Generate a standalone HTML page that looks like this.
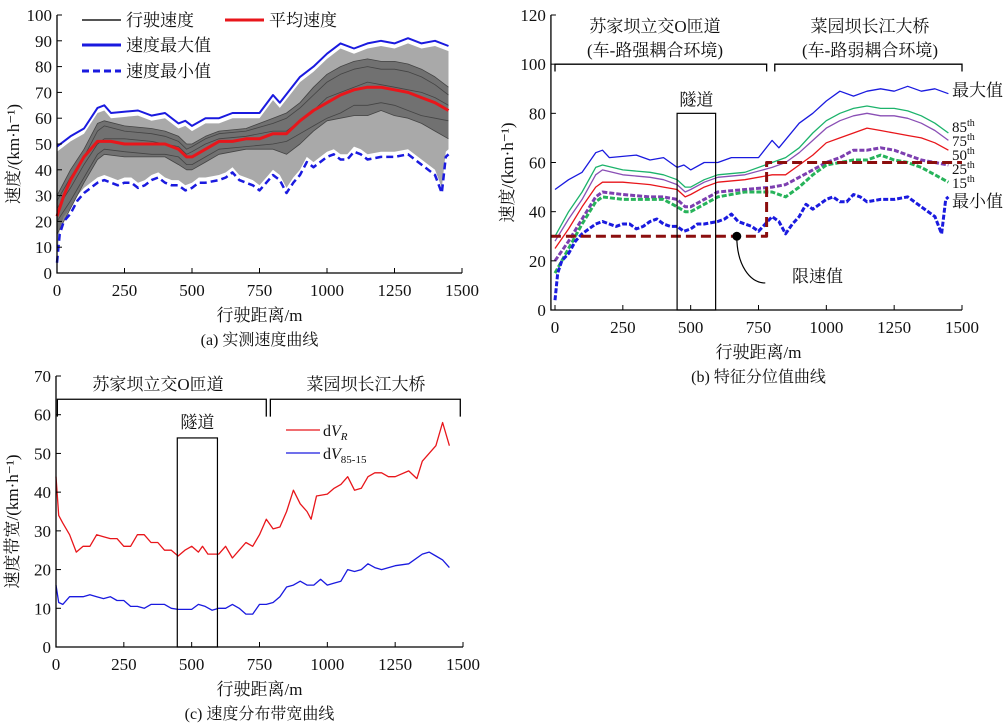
<!DOCTYPE html>
<html><head><meta charset="utf-8">
<style>
body{margin:0;background:#fff;width:1007px;height:728px;overflow:hidden}
svg{position:absolute;left:0;top:0}
text{font-family:"Liberation Serif","Noto Serif CJK SC",serif;fill:#111}
</style></head>
<body>
<svg id="fig" width="1007" height="728" viewBox="0 0 1007 728"></svg>
<script>
// ---- data (x = distance m, y = speed km/h) ----
const maxX=[0,50,100,150,175,200,300,350,400,450,475,500,550,600,650,700,750,800,825,900,950,1000,1050,1100,1150,1200,1250,1300,1350,1400,1450];
const maxY=[49,53,56,64,65,62,63,61,62,58,59,57,60,60,62,62,62,69,66,76,80,85,89,87,89,90,89,91,89,90,88];
const meanX=[0,25,50,100,150,200,250,300,350,400,450,480,500,550,600,650,700,750,800,850,900,950,1000,1050,1100,1150,1200,1250,1300,1350,1400,1450];
const meanY=[22,30,36,45,51,51,50,50,50,50,48,45,45,48,51,51,52,52,54,54,59,63,66,69,71,72,72,71,70,68,66,63];
const minX=[0,10,25,50,75,100,150,175,200,225,250,275,300,325,350,375,400,425,450,475,500,525,550,600,625,650,675,700,725,750,775,800,825,850,875,900,925,950,1000,1025,1050,1075,1100,1125,1150,1200,1250,1300,1350,1400,1425,1440,1450];
const minY=[4,15,20,23,28,31,35,36,35,34,35,35,33,34,36,37,35,34,34,32,33,35,35,36,37,39,36,35,34,32,35,38,36,31,35,38,43,41,45,46,44,44,47,46,44,45,45,46,42,38,31,45,46];
const pX=[0,50,100,150,175,250,350,400,450,480,500,550,600,700,800,850,900,950,1000,1050,1100,1150,1200,1250,1300,1350,1400,1450];
const p85=[30,40,48,58,59,57,56,55,53,50,50,53,55,56,60,62,66,72,77,80,82,83,82,82,81,79,76,72];
const p75=[28,37,45,55,57,55,54,53,51,48,49,52,54,55,58,60,64,69,74,77,79,80,79,79,78,76,73,69];
const p50=[25,33,42,50,52,52,51,50,49,46,47,50,52,53,55,55,59,63,68,70,72,74,73,72,71,70,68,65];
const p25=[20,28,37,46,48,47,46,46,45,42,42,45,48,49,50,51,54,57,60,62,65,65,66,65,63,61,60,59];
const p15=[15,25,35,44,46,45,45,45,42,40,40,43,46,48,48,46,50,55,59,60,61,61,63,61,60,58,55,52];
const limitX=[-15,780,780,1500];
const limitY=[30,30,60,60];
const cX=[0,10,25,50,75,100,125,150,175,200,225,250,275,300,325,350,375,400,425,450,475,500,525,540,560,600,625,650,675,700,725,750,775,800,825,850,875,900,925,940,960,1000,1025,1050,1075,1100,1125,1150,1175,1200,1225,1250,1300,1330,1350,1400,1425,1450];
const dVR=[44,34,32,29,24.5,26,26,29,28.5,28,28,26,26,29,29,27,27,25,25,23.5,25,26,24.5,26,24,24,26,23,25,27,26,29,33,30.5,31,35,40.5,37,35,33,39,39.5,41,42,44,40.5,41,44,45,45,44,44,45.5,43.5,48,52,58,52];
const c2X=[0,10,25,50,75,100,125,150,175,200,225,250,275,300,325,350,375,400,425,450,500,525,550,575,600,625,650,675,700,725,750,775,800,825,850,875,900,925,950,975,1000,1025,1050,1075,1100,1125,1150,1175,1200,1250,1300,1350,1375,1400,1425,1450];
const dV85=[16,11.5,11,13,13,13,13.5,13,12.5,13,12,12,10.5,10.5,10,11,11,11,10,9.7,9.7,11,10.5,9.5,10,10,11,10,8.5,8.5,11,11,11.5,13,15.5,16,17,16,16,17.5,16,16.5,17,20,19.5,20,21.5,20.5,20,21,21.5,24,24.5,23.5,22.5,20.5];
const xTicks=[0,250,500,750,1000,1250,1500];
const yTicksA=[0,10,20,30,40,50,60,70,80,90,100];
const yTicksB=[0,20,40,60,80,100,120];
const yTicksC=[0,10,20,30,40,50,60,70];

const svg=document.getElementById('fig');
const NS='http://www.w3.org/2000/svg';
function mk(tag,attrs,parent){const e=document.createElementNS(NS,tag);for(const k in attrs)e.setAttribute(k,attrs[k]);(parent||svg).appendChild(e);return e;}
function txt(s,x,y,size,parent,anchor){const t=mk('text',{x:x,y:y,'font-size':size,'text-anchor':anchor||'middle'},parent);t.textContent=s;return t;}
function scale(d0,d1,r0,r1){return v=>r0+(v-d0)*(r1-r0)/(d1-d0);}
function pathOf(xs,ys,sx,sy){return xs.map((x,i)=>(i?'L':'M')+sx(x).toFixed(1)+','+sy(ys[i]).toFixed(1)).join('');}
function axes(g,sx,sy,xmin,xmax,ymin,ymax,yt,xlab,ylab,cap){
  const x0=sx(xmin),x1=sx(xmax),y0=sy(ymin),y1=sy(ymax);
  const ax=mk('path',{d:`M${x0},${y1}L${x0},${y0}L${x1},${y0}`,stroke:'#000','stroke-width':1.3,fill:'none'},g);
  
  
  xTicks.forEach(v=>{mk('line',{x1:sx(v),x2:sx(v),y1:y0,y2:y0-5,stroke:'#000'},g);const t=txt(v,sx(v),y0+23,17,g);
    
    });
  yt.forEach(v=>{mk('line',{x1:x0,x2:x0+5,y1:sy(v),y2:sy(v),stroke:'#000'},g);const t=txt(v,x0-5,sy(v)+6,17,g,'end');
    
    });
  const xl=txt(xlab,(sx(0)+sx(1500))/2,y0+48,17,g);
  
  
  const ym=(y0+y1)/2+10;
  const yl=txt(ylab,0,0,17,g);yl.setAttribute('transform',`translate(${x0-38},${ym}) rotate(-90)`);
  
  
  const c=txt(cap,(sx(0)+sx(1500))/2,y0+72,16,g);
  
  
}
function line(g,xs,ys,sx,sy,color,w,dash,name){const p=mk('path',{d:pathOf(xs,ys,sx,sy),stroke:color,'stroke-width':w,fill:'none','stroke-linejoin':'round'},g);if(dash)p.setAttribute('stroke-dasharray',dash);
  
  return p;}
function band(g,xs1,ys1,xs2,ys2,sx,sy,fill,op,name){
  const top=pathOf(xs1,ys1,sx,sy);const bx=xs2.slice().reverse(),by=ys2.slice().reverse();
  const bot=bx.map((x,i)=>'L'+sx(x).toFixed(1)+','+sy(by[i]).toFixed(1)).join('');
  const p=mk('path',{d:top+bot+'Z',fill:fill,'fill-opacity':op,stroke:'none'},g);
  
  }

// ---- panel a ----
{const g=mk('g',{});
 const sx=scale(0,1500,57,462),sy=scale(0,100,273,15);
 band(g,maxX,maxY.map(v=>v-2),minX,minY.map(v=>v+2),sx,sy,'#8c8c8c',0.75,'speed-traces-band');
 band(g,pX,p85,pX,p15,sx,sy,'#5f5f5f',0.75,'speed-traces-core');
 [p85,p75,p50,p25,p15].forEach(a=>line(g,pX,a,sx,sy,'#444',0.8,null,'speed-trace'));
 line(g,maxX,maxY,sx,sy,'#1a1adf',2,null,'max-speed-line');
 line(g,minX,minY,sx,sy,'#1a1adf',2.5,'7,4','min-speed-line');
 line(g,meanX,meanY,sx,sy,'#e8161b',3,null,'mean-speed-line');
 axes(g,sx,sy,0,1500,0,100,yTicksA,'行驶距离/m','速度/(km·h⁻¹)','(a) 实测速度曲线');
 const lg=mk('g',{},g);
 const items=[[82,20,'#555',2,null,'行驶速度'],[225,20,'#e8161b',3,null,'平均速度'],[82,45,'#1a1adf',3,null,'速度最大值'],[82,71,'#1a1adf',3,'7,4','速度最小值']];
 items.forEach(it=>{const l=mk('line',{x1:it[0],x2:it[0]+39,y1:it[1],y2:it[1],stroke:it[2],'stroke-width':it[3]},lg);if(it[4])l.setAttribute('stroke-dasharray',it[4]);
   
   
   txt(it[5],it[0]+44,it[1]+6,17,lg,'start');});
}

// ---- panel b ----
{const g=mk('g',{});
 const sx=scale(0,1500,555,962),sy=scale(0,120,310,15);
 line(g,maxX,maxY,sx,sy,'#1a1adf',1.3,null,'max-line');
 line(g,pX,p85,sx,sy,'#1cb36b',1.3,null,'p85-line');
 line(g,pX,p75,sx,sy,'#8a4fb5',1.3,null,'p75-line');
 line(g,pX,p50,sx,sy,'#e8161b',1.3,null,'p50-line');
 line(g,pX,p25,sx,sy,'#7d3fb0',3,'5,2','p25-line');
 line(g,pX,p15,sx,sy,'#27b35a',3,'5,2','p15-line');
 line(g,minX,minY,sx,sy,'#1a1adf',3,'5,2','min-line');
 line(g,limitX,limitY,sx,sy,'#8b0e0e',3,'10,5','speed-limit-line');
 axes(g,sx,sy,-15,1500,0,120,yTicksB,'行驶距离/m','速度/(km·h⁻¹)','(b) 特征分位值曲线');
 const tb=mk('rect',{x:sx(450),y:sy(80),width:sx(592)-sx(450),height:sy(0)-sy(80),fill:'none',stroke:'#000','stroke-width':1.2},g);
 
 txt('隧道',(sx(450)+sx(592))/2,sy(80)-8,17,g);
 mk('path',{d:`M${sx(0)},${sy(97)}V${sy(100)}H${sx(780)}V${sy(97)}M${sx(810)},${sy(97)}V${sy(100)}H${sx(1500)}V${sy(97)}`,stroke:'#000','stroke-width':1.3,fill:'none'},g);
 txt('苏家坝立交O匝道',655,32,17,g);txt('(车-路强耦合环境)',655,56,17,g);
 txt('菜园坝长江大桥',870,32,17,g);txt('(车-路弱耦合环境)',870,56,17,g);
 mk('circle',{cx:sx(670),cy:sy(30),r:4.5,fill:'#000'},g);
 mk('path',{d:`M${sx(670)},${sy(30)} C${sx(670)},${sy(18)} ${sx(720)},${sy(11)} ${sx(775)},${sy(11)}`,stroke:'#000','stroke-width':1.2,fill:'none'},g);
 const lv=txt('限速值',792,282,17,g,'start');
 const labs=[['最大值',952,96],['85',952,132],['75',952,146],['50',952,160],['25',952,174],['15',952,188],['最小值',952,207]];
 labs.forEach((l,i)=>{const t=txt(l[0],l[1],l[2],i==0||i==6?17:15,g,'start');
   if(i>0&&i<6){const s=mk('tspan',{dy:-6,'font-size':10},t);s.textContent='th';}
   });
}

// ---- panel c ----
{const g=mk('g',{});
 const sx=scale(0,1500,56,463),sy=scale(0,70,647,376);
 line(g,cX,dVR,sx,sy,'#e8161b',1.3,null,'dvr-line');
 line(g,c2X,dV85,sx,sy,'#1a1adf',1.3,null,'dv85-15-line');
 axes(g,sx,sy,0,1500,0,70,yTicksC,'行驶距离/m','速度带宽/(km·h⁻¹)','(c) 速度分布带宽曲线');
 const tb=mk('rect',{x:sx(447),y:sy(54),width:sx(595)-sx(447),height:sy(0)-sy(54),fill:'none',stroke:'#000','stroke-width':1.2},g);
 
 txt('隧道',(sx(447)+sx(595))/2,sy(54)-10,17,g);
 mk('path',{d:`M${sx(5)},${sy(59.5)}V${sy(64)}H${sx(775)}V${sy(59.5)}M${sx(790)},${sy(59.5)}V${sy(64)}H${sx(1490)}V${sy(59.5)}`,stroke:'#000','stroke-width':1.3,fill:'none'},g);
 txt('苏家坝立交O匝道',158,390,17,g);txt('菜园坝长江大桥',366,390,17,g);
 const lg=mk('g',{},g);
 mk('line',{x1:286,x2:320,y1:430,y2:430,stroke:'#e8161b','stroke-width':1.3},lg);
 mk('line',{x1:286,x2:320,y1:453,y2:453,stroke:'#1a1adf','stroke-width':1.3},lg);
 const t1=mk('text',{x:323,y:436,'font-size':16,'text-anchor':'start'},lg);t1.innerHTML='d<tspan font-style="italic">V</tspan><tspan font-style="italic" font-size="11" dy="4">R</tspan>';
 const t2=mk('text',{x:323,y:459,'font-size':16,'text-anchor':'start'},lg);t2.innerHTML='d<tspan font-style="italic">V</tspan><tspan font-size="11" dy="4">85-15</tspan>';
}
</script>
</body></html>
